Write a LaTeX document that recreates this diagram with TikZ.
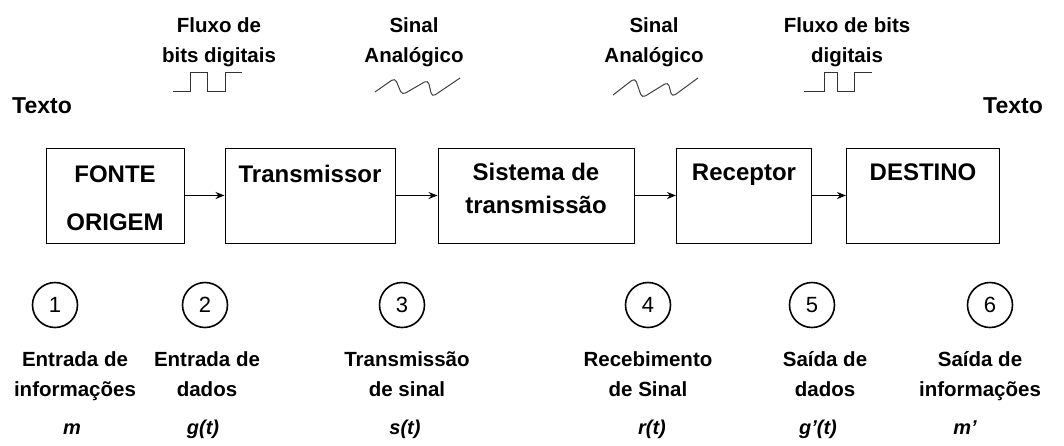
\documentclass[tikz,border=0pt]{standalone}
\usepackage{fontspec}
\setmainfont{Liberation Sans}
\usetikzlibrary{arrows,arrows.meta,positioning}

\begin{document}
\begin{tikzpicture}[x=1pt,y=-1pt,>={Stealth[length=9pt,width=7pt]},auto]

		\tikzstyle{bloco}=[rectangle,draw=black,line width=1pt,minimum height=95pt]
		\tikzstyle{titulo}=[font=\bfseries\fontsize{24}{33}\selectfont,inner sep=0pt,anchor=base]
		\tikzstyle{rotulo}=[font=\bfseries\fontsize{20.5}{29.5}\selectfont,align=center,inner sep=0pt,anchor=base]
		\tikzstyle{etapa}=[circle,draw=black,line width=1.6pt,minimum size=45pt,inner sep=0pt,font=\fontsize{22}{24}\selectfont]
		\tikzstyle{sinal}=[font=\bfseries\itshape\fontsize{20}{24}\selectfont,inner sep=0pt,anchor=base]
		\tikzstyle{seta}=[->,line width=1.5pt]
		\tikzstyle{bits}=[line width=1pt,black!80]
		\tikzstyle{onda}=[line width=1pt,black!75,rounded corners=4pt]

		\useasboundingbox (0,0) rectangle (1064,445);

		% blocos
		\node [bloco,minimum width=138pt] (fonte) at (115,195.5) {};
		\node [bloco,minimum width=170pt] (trans) at (310,195.5) {};
		\node [bloco,minimum width=196pt] (sist) at (536,195.5) {};
		\node [bloco,minimum width=135pt] (recep) at (744,195.5) {};
		\node [bloco,minimum width=153pt] (dest) at (923,195.5) {};

		\node [titulo] (fonte-a) at (115,182) {FONTE};
		\node [titulo] (fonte-b) at (115,230) {ORIGEM};
		\node [titulo] (trans-a) at (310,182) {Transmissor};
		\node [titulo] (sist-a) at (536,180) {Sistema de};
		\node [titulo] (sist-b) at (536,213) {transmissão};
		\node [titulo] (recep-a) at (744,180) {Receptor};
		\node [titulo] (dest-a) at (923,180) {DESTINO};

		\path (fonte) edge [seta] (trans)
		      (trans) edge [seta] (sist)
		      (sist) edge [seta] (recep)
		      (recep) edge [seta] (dest);

		\node [titulo,font=\bfseries\fontsize{23}{26}\selectfont] (texto-e) at (42,113) {Texto};
		\node [titulo,font=\bfseries\fontsize{23}{26}\selectfont] (texto-d) at (1013,113) {Texto};

		% sinais no topo
		\node [rotulo] (fluxo-e) at (219,62) {Fluxo de\\bits digitais};
		\node [rotulo] (anal-e) at (414,62) {Sinal\\Analógico};
		\node [rotulo] (anal-d) at (654,62) {Sinal\\Analógico};
		\node [rotulo] (fluxo-d) at (847,62) {Fluxo de bits\\digitais};

		\draw [bits] (173,91) -- (190,91) -- (190,72) -- (207,72) -- (207,91) -- (225,91) -- (225,72) -- (242,72);
		\draw [bits] (804,91) -- (824,91) -- (824,72) -- (837,72) -- (837,91) -- (854,91) -- (854,72) -- (872,72);
		\draw [onda] (375,92) -- (395,78) -- (402,95) -- (428,80) -- (432,97) -- (460,78);
		\draw [onda] (613,95) -- (635,78) -- (642,98) -- (668,82) -- (672,97) -- (698,78);

		% etapas
		\node [etapa] (e1) at (55,305) {1};
		\node [etapa] (e2) at (205,305) {2};
		\node [etapa] (e3) at (402,305) {3};
		\node [etapa] (e4) at (648,305) {4};
		\node [etapa] (e5) at (812,305) {5};
		\node [etapa] (e6) at (990,305) {6};

		\node [rotulo] (r1) at (75,396) {Entrada de\\informações};
		\node [rotulo] (r2) at (207,396) {Entrada de\\dados};
		\node [rotulo] (r3) at (407,396) {Transmissão\\de sinal};
		\node [rotulo] (r4) at (648,396) {Recebimento\\de Sinal};
		\node [rotulo] (r5) at (825,396) {Saída de\\dados};
		\node [rotulo] (r6) at (980,396) {Saída de\\informações};

		\node [sinal] (m1) at (72,434) {m};
		\node [sinal] (m2) at (203,434) {g(t)};
		\node [sinal] (m3) at (405,434) {s(t)};
		\node [sinal] (m4) at (652,434) {r(t)};
		\node [sinal] (m5) at (818,434) {g’(t)};
		\node [sinal] (m6) at (965,434) {m’};
\end{tikzpicture}
\end{document}
